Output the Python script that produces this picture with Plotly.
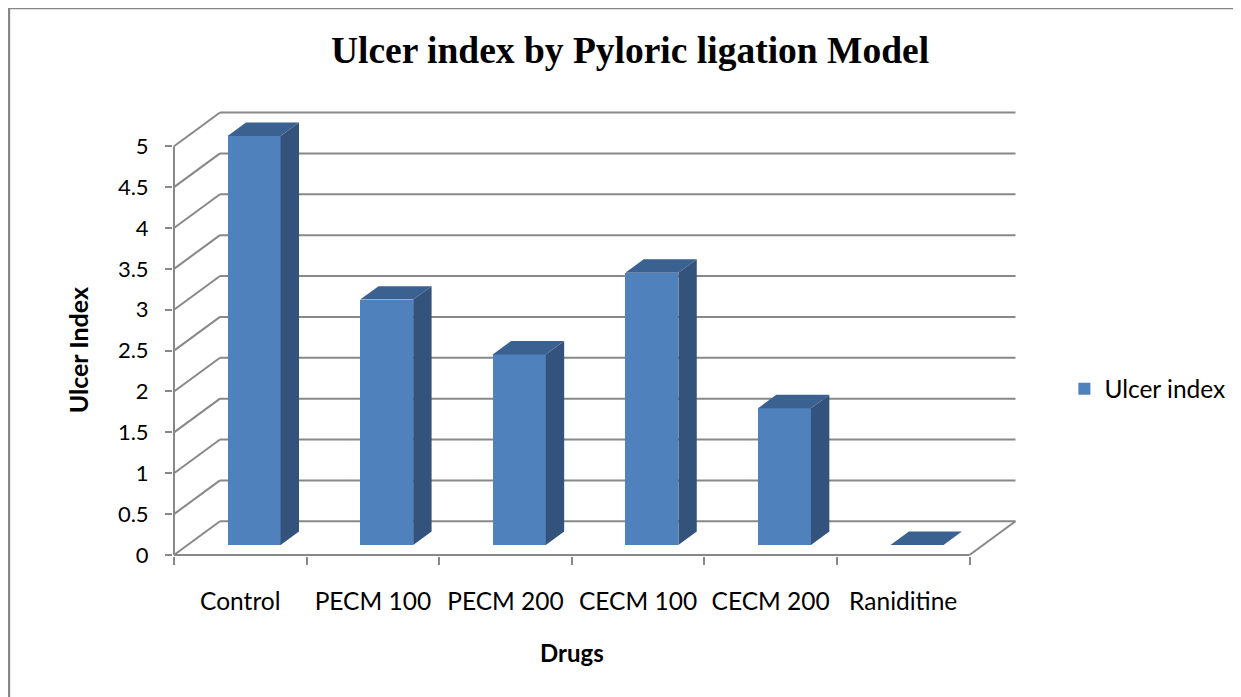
import plotly.graph_objects as go

# ---------------- data ----------------
categories = ["Control", "PECM 100", "PECM 200", "CECM 100", "CECM 200", "Raniditine"]
ulcer_index = [5.0, 3.0, 2.33, 3.33, 1.67, 0.0]
y_ticks = [0, 0.5, 1, 1.5, 2, 2.5, 3, 3.5, 4, 4.5, 5]
series_name = "Ulcer index"
title_text = "Ulcer index by Pyloric ligation Model"
x_title = "Drugs"
y_title = "Ulcer Index"

# ---------------- geometry (page pixels) ----------------
W, H = 1241, 697
OFF = 8                    # page offset of the figure (body margin)
X0, Y0 = 173.5 - OFF, 555.0 - OFF   # front-left corner of the floor
SX, SY = 132.6, 81.7       # px per category, px per unit
DXP, DYP = 46.0, 33.7      # depth offset of the back wall
n = len(categories)
ymax = max(y_ticks)
DX, DY = DXP / SX, DYP / SY
F0, F1 = 0.3, 0.7          # bar depth (fractions of the full depth)
BW = 0.4                   # bar width (category units)
d = F1 - F0

plot_left = X0 - 1
plot_right = X0 + n * SX + DXP + 1.5
plot_bottom = Y0 + 1
plot_top = Y0 - ymax * SY - DYP - 1.5
x_range = [(plot_left - X0) / SX, (plot_right - X0) / SX]
y_range = [(Y0 - plot_bottom) / SY, (Y0 - plot_top) / SY]

FRONT = "#4F81BD"
SIDE = "#33537C"
TOP = "#3B6190"
GRID = "#888888"
FONT = "Lato"

fig = go.Figure()

# front faces of the bars
centers = [i + 0.5 + F0 * DX for i in range(n)]
fig.add_trace(go.Bar(
    x=centers, y=ulcer_index, base=F0 * DY, width=BW,
    marker=dict(color=FRONT, line=dict(width=0)),
    name=series_name, showlegend=True,
))

# side and top faces derived from the same values
sx, sy, tx, ty = [], [], [], []
for c, v in zip(centers, ulcer_index):
    x0b, x1b = c - BW / 2, c + BW / 2
    yb, yt = F0 * DY, v + F0 * DY
    sx += [x1b, x1b + d * DX, x1b + d * DX, x1b, x1b, None]
    sy += [yb, yb + d * DY, yt + d * DY, yt, yb, None]
    tx += [x0b, x1b, x1b + d * DX, x0b + d * DX, x0b, None]
    ty += [yt, yt, yt + d * DY, yt + d * DY, yt, None]
fig.add_trace(go.Scatter(x=sx, y=sy, fill="toself", fillcolor=SIDE, mode="lines",
                         line=dict(width=0, color=SIDE), showlegend=False, hoverinfo="skip"))
fig.add_trace(go.Scatter(x=tx, y=ty, fill="toself", fillcolor=TOP, mode="lines",
                         line=dict(width=0, color=TOP), showlegend=False, hoverinfo="skip"))

# walls, gridlines and axes lines
shapes = []
def seg(xa, ya, xb, yb):
    shapes.append(dict(type="line", xref="x", yref="y", x0=xa, y0=ya, x1=xb, y1=yb,
                       line=dict(color=GRID, width=2), layer="below"))
for v in y_ticks:
    seg(DX, v + DY, n + DX, v + DY)
    seg(0, v, DX, v + DY)
seg(0, 0, 0, ymax)
seg(0, 0, n, 0)
seg(n, 0, n + DX, DY)

pw = plot_right - plot_left
ph = plot_bottom - plot_top
def px_x(p):
    return (p - OFF - plot_left) / pw
def px_y(p):
    return (plot_bottom - (p - OFF)) / ph

# outer chart border (top and left edges visible)
shapes.append(dict(type="rect", xref="paper", yref="paper",
                   x0=px_x(8.4), x1=1.5, y0=-0.5, y1=px_y(8.4),
                   line=dict(color="#878787", width=2.5), layer="below"))

annotations = [
    dict(text="<b>" + x_title + "</b>", xref="paper", yref="paper",
         x=px_x(572), y=px_y(652), showarrow=False,
         font=dict(family=FONT, size=24, color="black"), xanchor="center", yanchor="middle"),
    dict(text="<b>" + y_title + "</b>", xref="paper", yref="paper",
         x=px_x(77), y=px_y(351), showarrow=False, textangle=-90,
         font=dict(family=FONT, size=25, color="black"), xanchor="center", yanchor="middle"),
]

fig.update_layout(
    width=W, height=H,
    margin=dict(l=plot_left, r=W - plot_right, t=plot_top, b=H - plot_bottom, pad=0),
    paper_bgcolor="white", plot_bgcolor="white",
    title=dict(text="<b>" + title_text + "</b>", x=(630 - OFF) / W, xanchor="center",
               y=1 - (50 - OFF) / H, yanchor="middle", xref="container", yref="container",
               font=dict(family="Liberation Serif", size=37.5, color="black")),
    xaxis=dict(range=x_range, showgrid=False, zeroline=False, showline=False,
               tickvals=[i + 0.5 for i in range(n)], ticktext=categories, ticks="",
               tickfont=dict(family=FONT, size=24.5, color="black"),
               ticklabelstandoff=28,
               minor=dict(tickvals=list(range(n + 1)), ticks="outside", ticklen=8,
                          tickwidth=2, tickcolor=GRID, showgrid=False)),
    yaxis=dict(range=y_range, showgrid=False, zeroline=False, showline=False,
               tickvals=y_ticks, ticks="outside", ticklen=7, tickwidth=2, tickcolor=GRID,
               tickfont=dict(family=FONT, size=22, color="black"),
               ticklabelstandoff=12),
    legend=dict(x=px_x(1064), y=px_y(389), xanchor="left", yanchor="middle",
                font=dict(family=FONT, size=24.5, color="black"), itemwidth=30,
                bgcolor="rgba(0,0,0,0)"),
    shapes=shapes, annotations=annotations,
    bargap=0,
)

fig.write_html("out.html")
